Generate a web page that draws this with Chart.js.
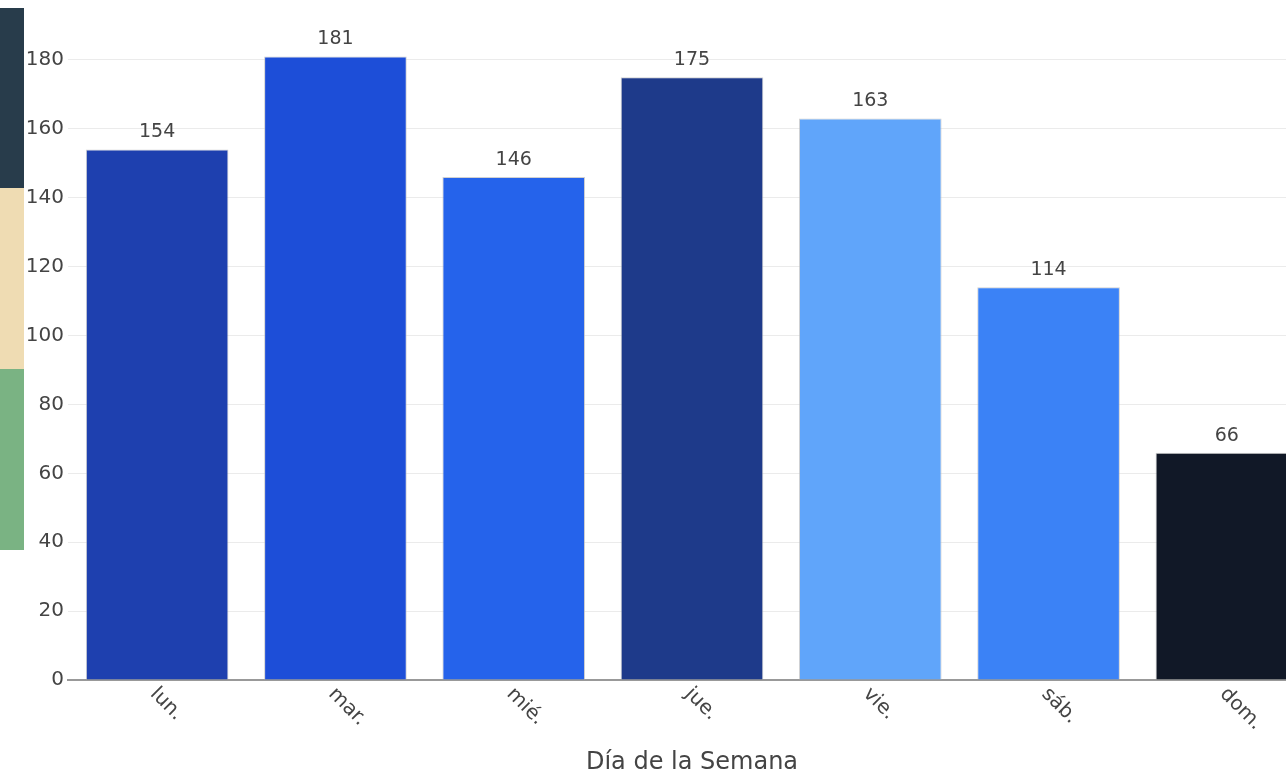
<!DOCTYPE html>
<html>
<head>
<meta charset="utf-8">
<script src="https://cdn.jsdelivr.net/npm/chart.js@4"></script>
<style>
  html, body { margin: 0; padding: 0; background: #fff; overflow: hidden; }
  #wrap { position: relative; width: 1286px; height: 779px; overflow: hidden; }
  #chartDays { position: absolute; left: 0; top: 0; }
  .strip { position: absolute; left: 0; width: 24px; }
</style>
</head>
<body>
<div id="wrap">
  <canvas id="chartDays" width="1316" height="779"></canvas>
  <div class="strip" style="top:8px;height:180px;background:#283c4b;"></div>
  <div class="strip" style="top:188px;height:181px;background:#efdcb3;"></div>
  <div class="strip" style="top:369px;height:181px;background:#7ab383;"></div>
</div>
<script>
const dayLabels = ['lun.', 'mar.', 'mié.', 'jue.', 'vie.', 'sáb.', 'dom.'];
const dayCounts = [154, 181, 146, 175, 163, 114, 66];
const dayColors = ['#1e40af', '#1d4ed8', '#2563eb', '#1e3a8a', '#60a5fa', '#3b82f6', '#111827'];
const yTicks = [0, 20, 40, 60, 80, 100, 120, 140, 160, 180];

const textColor = '#444';
const fontFamily = '"DejaVu Sans", Verdana, sans-serif';

// value labels above each bar
const barValues = {
  id: 'barValues',
  afterDatasetsDraw(chart) {
    const ctx = chart.ctx;
    const meta = chart.getDatasetMeta(0);
    ctx.save();
    ctx.font = '19px ' + fontFamily;
    ctx.fillStyle = textColor;
    ctx.textAlign = 'center';
    ctx.textBaseline = 'middle';
    meta.data.forEach((bar, i) => {
      ctx.fillText(String(dayCounts[i]), bar.x, bar.y - 17);
    });
    ctx.restore();
  },
};

// rotated category labels (down-right, like plotly)
const xLabels = {
  id: 'xLabels',
  afterDraw(chart) {
    const ctx = chart.ctx;
    const xScale = chart.scales.x;
    ctx.save();
    ctx.font = '20px ' + fontFamily;
    ctx.fillStyle = textColor;
    ctx.textAlign = 'left';
    ctx.textBaseline = 'middle';
    dayLabels.forEach((lab, i) => {
      const x = xScale.getPixelForTick(i);
      ctx.save();
      ctx.translate(x - 4, chart.chartArea.bottom + 11);
      ctx.rotate(Math.PI / 4);
      ctx.fillText(lab, 0, 0);
      ctx.restore();
    });
    ctx.restore();
  },
};

const chartDaysConfig = {
  type: 'bar',
  plugins: [barValues, xLabels],
  data: {
    labels: dayLabels,
    datasets: [
      {
        label: 'Día de la Semana',
        data: dayCounts,
        backgroundColor: dayColors,
        borderColor: 'rgba(190,190,190,0.7)',
        borderWidth: 1,
        barPercentage: 0.8,
        categoryPercentage: 1.0,
      },
    ],
  },
  options: {
    responsive: false,
    animation: false,
    devicePixelRatio: 1,
    layout: {
      padding: { top: 20, left: 0, right: 0, bottom: 0 },
    },
    plugins: {
      legend: { display: false },
      tooltip: { enabled: false },
    },
    scales: {
      x: {
        grid: { display: false },
        border: { display: true, color: '#999', width: 2 },
        ticks: { display: false },
        title: {
          display: true,
          text: 'Día de la Semana',
          color: textColor,
          font: { family: fontFamily, size: 24 },
          padding: { top: 0, bottom: 2 },
        },
        afterFit(scale) {
          scale.height = 99;
        },
      },
      y: {
        min: 0,
        max: 191.6,
        border: { display: false },
        grid: { color: '#ebebeb', lineWidth: 1, drawTicks: false },
        afterBuildTicks(scale) {
          scale.ticks = yTicks.map((v) => ({ value: v }));
        },
        ticks: {
          color: textColor,
          font: { family: fontFamily, size: 20 },
          padding: 4,
        },
        afterFit(scale) {
          scale.width = 68;
        },
      },
    },
  },
};

const chartDays = new Chart(document.getElementById('chartDays'), chartDaysConfig);
</script>
</body>
</html>
